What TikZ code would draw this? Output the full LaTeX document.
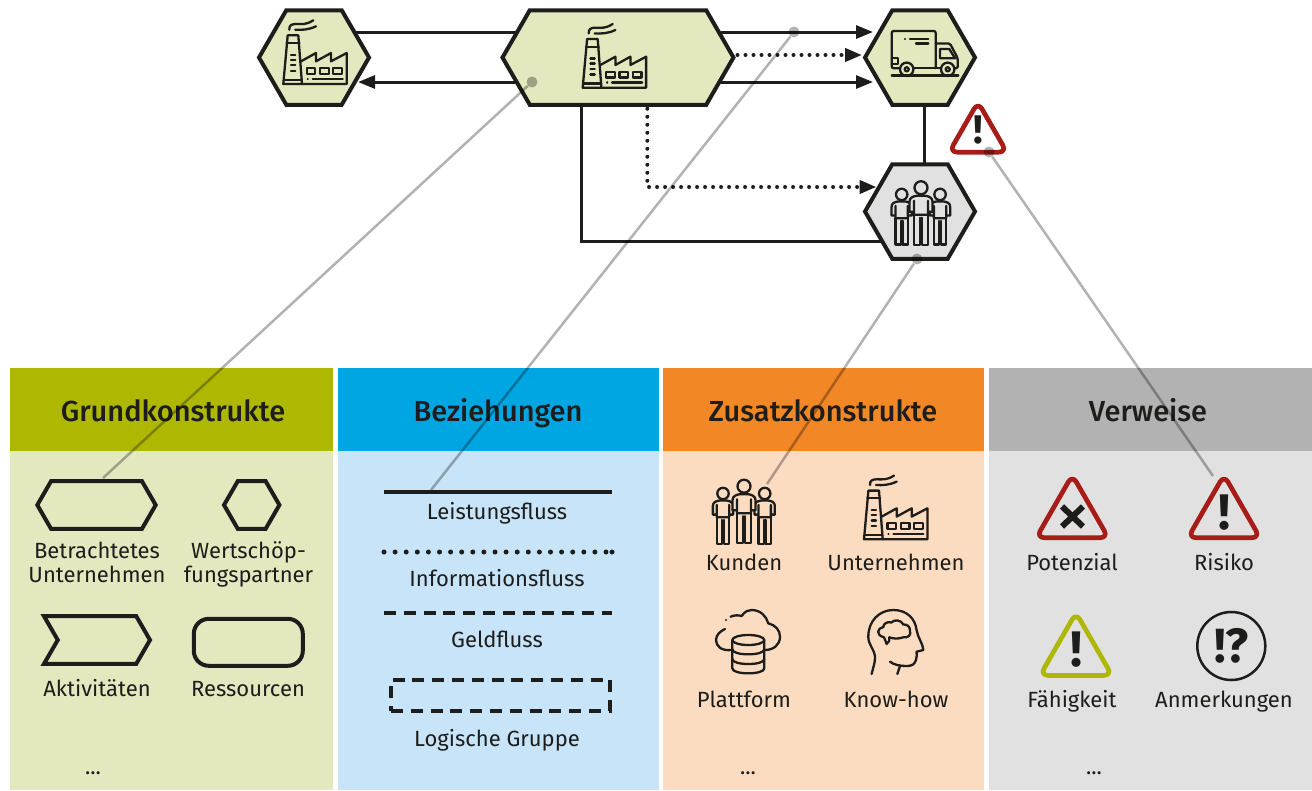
\documentclass[tikz,border=0pt]{standalone}
\usepackage{fontspec}
\setmainfont{Fira Sans}
\newfontfamily\titlefont{Fira Sans Medium}
\usetikzlibrary{shapes.symbols,arrows.meta,calc}
\definecolor{inkblack}{HTML}{1D1D1B}
\definecolor{grundhead}{HTML}{AFB800}
\definecolor{grundbody}{HTML}{E4E8BF}
\definecolor{bezhead}{HTML}{00A6E2}
\definecolor{bezbody}{HTML}{C8E4F9}
\definecolor{zushead}{HTML}{F18825}
\definecolor{zusbody}{HTML}{FCDCC0}
\definecolor{verhead}{HTML}{B2B2B2}
\definecolor{verbody}{HTML}{E1E1E1}
\definecolor{riskred}{HTML}{A71C17}
\tikzset{
  panelhead/.style={rectangle,minimum width=#1,minimum height=83pt,inner sep=0pt,outer sep=0pt},
  paneltitle/.style={anchor=base,inner sep=0pt,text=inkblack,font=\fontsize{29}{32}\titlefont},
  panelbody/.style={rectangle,minimum width=#1,minimum height=339pt,inner sep=0pt,outer sep=0pt},
  hexnode/.style={signal,signal to=east and west,signal pointer angle=120,draw=inkblack,line width=4pt,inner sep=0pt,outer sep=0pt,minimum height=94.5pt,minimum width=#1},
  legendhex/.style={signal,signal to=east and west,signal pointer angle=120,draw=inkblack,line width=4pt,inner sep=0pt,outer sep=0pt,minimum height=47.7pt,minimum width=#1},
  legendarrow/.style={signal,signal from=west,signal to=east,signal pointer angle=120,draw=inkblack,line width=4pt,inner sep=0pt,outer sep=0pt,minimum height=47.7pt,minimum width=106pt},
  legendres/.style={rectangle,rounded corners=15pt,draw=inkblack,line width=4pt,inner sep=0pt,outer sep=0pt,minimum height=47pt,minimum width=109pt},
  legendgroup/.style={rectangle,draw=inkblack,line width=4pt,dash pattern=on 12pt off 7.8pt,inner sep=0pt,outer sep=0pt,minimum height=31pt,minimum width=219pt},
  lbl/.style={anchor=base,text=inkblack,inner sep=0pt,font=\fontsize{22}{24}\selectfont},
  flow/.style={inkblack,line width=3pt,-{Triangle[length=17pt,width=13pt]}},
  flowplain/.style={inkblack,line width=3pt},
  infoflow/.style={inkblack,line width=4pt,line cap=round,dash pattern=on 0pt off 8pt},
  infotip/.style={infoflow,-{Triangle[length=17pt,width=13pt]}},
  legenddots/.style={inkblack,line width=5pt,line cap=round,dash pattern=on 0pt off 11.1pt},
  legendline/.style={inkblack,line width=4pt},
  leader/.style={verhead,line width=2.5pt,blend mode=multiply},
  leaderdot/.style={circle,fill=verhead,inner sep=0pt,minimum size=11pt,blend mode=multiply},
  iconline/.style={inkblack,line width=2.3pt,line join=round,line cap=round},
  factory/.pic={
    \draw[iconline] (-28.3,-17.7) -- (-17.7,-17.7) -- (-14,31) -- (-32.7,31) -- cycle;
    \draw[iconline] (-29.5,-10) -- (-16.5,-10) (-32,26.7) -- (-14.3,26.7);
    \draw[iconline] (-25,1.7) -- (-20.7,1.7) (-25,6.7) -- (-20.7,6.7) (-25,12.3) -- (-20.7,12.3) (-25,17.7) -- (-20.7,17.7);
    \draw[iconline] (-15,8.3) -- (0,0) -- (0,8.3) -- (15,0) -- (15,8.3) -- (30.7,0) -- (30.7,31) -- (-14,31);
    \draw[iconline] (-9.3,15) rectangle (-0.7,20.7) (4,15) rectangle (12.7,20.7) (17.3,15) rectangle (26,20.7);
    \draw[iconline] (-8.3,25.7) -- (-8.2,25.7) (-3.3,25.7) -- (26.7,25.7);
    \draw[iconline] (-26.7,-23.3) .. controls (-27,-28) and (-24,-29) .. (-20,-29) .. controls (-14,-29) and (-10,-28) .. (-2.7,-32.7);
    \draw[iconline] (-20.7,-23.3) .. controls (-14,-23) and (-8,-23) .. (0,-26.7);
  },
  person/.pic={
    \draw[iconline] (0,0) circle (6.5);
    \draw[iconline,fill=#1] (-7,27) -- (-7,57) -- (-1,57) -- (-1,30) (1,30) -- (1,57) -- (7,57) -- (7,27);
    \draw[iconline,fill=#1] (-7,27) -- (-7,13) -- (-7,24) -- (-11.5,24) -- (-11.5,14) .. controls (-11.5,10) and (-8,8.5) .. (-4,8) -- (4,8) .. controls (8,8.5) and (11.5,10) .. (11.5,14) -- (11.5,24) -- (7,24) -- (7,13) -- (7,27) -- cycle;
  },
  people/.pic={
    \path (-21,-18) pic[scale=.88] {person=#1};
    \path (20.7,-18) pic[scale=.88] {person=#1};
    \path (0,-25.3) pic {person=#1};
  },
  truckicon/.pic={
    \draw[iconline,rounded corners=2pt] (15.7,10.8) -- (15.7,-26.5) -- (-28.3,-26.5) -- (-28.3,10.8) -- (-20,10.8);
    \draw[iconline] (-28.3,0.8) -- (-21.7,0.8) -- (-21.7,6.5) -- (-28.3,6.5);
    \draw[iconline] (-15,-18.8) -- (-14.9,-18.8) (-10,-18.8) -- (8.3,-18.8) (-4,-14) -- (8.3,-14);
    \draw[iconline,rounded corners=1.5pt] (15.7,-14) -- (30,-14) -- (37.7,0.8) -- (37.7,10.8) -- (34.5,10.8);
    \draw[iconline] (20,-8.5) -- (29.3,-8.5) -- (35,0.8) -- (20,0.8) -- cycle;
    \draw[iconline] (-13.3,11.8) circle (6.7) (-13.3,11.8) circle (2) (27.7,11.8) circle (6.7) (27.7,11.8) circle (2);
    \draw[iconline] (-6.7,10.8) -- (21,10.8) (-28.3,18) -- (38.3,18);
  },
  cloudicon/.pic={
    \draw[iconline] (-16.7,10) .. controls (-26,11) and (-32.3,7) .. (-32.3,0) .. controls (-32.3,-5) and (-28,-9) .. (-23.3,-11);
    \draw[iconline] (-22.3,-20) -- (-22.2,-20);
    \draw[iconline] (-17.7,-23.3) .. controls (-14,-25) and (-10,-25) .. (-6.7,-24) .. controls (-3,-29) and (0,-30) .. (3.3,-30) .. controls (12,-30) and (18,-24) .. (20,-16.7) .. controls (27,-15) and (31.7,-10) .. (31.7,-3.3) .. controls (31.7,5) and (25,10) .. (16.7,10);
    \draw[iconline,fill=zusbody] (0,0) ellipse (16 and 5);
    \draw[iconline] (-16,0) -- (-16,28.3) .. controls (-16,35) and (16,35) .. (16,28.3) -- (16,0);
    \draw[iconline] (-16,9.3) .. controls (-16,16) and (16,16) .. (16,9.3) (-16,19) .. controls (-16,25.7) and (16,25.7) .. (16,19);
  },
  headicon/.pic={
    \draw[iconline] (-21.7,34) .. controls (-20,27) and (-18,22) .. (-18.3,16.7) .. controls (-19,9) and (-25,5) .. (-25,-3.3) .. controls (-25,-19) and (-14,-30) .. (0,-30) .. controls (14,-30) and (22,-21) .. (23.3,-10) .. controls (24,-3) and (30,4) .. (30,10) -- (23.3,11.7) .. controls (23,15) and (24,17) .. (22.7,20) .. controls (21,25) and (18,26) .. (13.3,26) .. controls (7,26) and (1,25) .. (-3.3,21.7);
    \draw[iconline] (6.7,26) -- (4,34);
    \draw[iconline] (-6.7,4) .. controls (-4,2) and (-3.5,0) .. (-4,-2.7) .. controls (1,-1) and (5,-1) .. (10,-2.7) .. controls (15,-2) and (18,-5) .. (16.7,-9) .. controls (17,-13) and (14,-16) .. (10,-15.5) .. controls (8,-20) and (1,-21) .. (-2,-17.5) .. controls (-6,-19) and (-10,-16) .. (-10,-13) .. controls (-16,-12) and (-18,-5) .. (-9.3,-2.7) .. controls (-8,0) and (-7.5,2) .. (-6.7,4) -- cycle;
  },
  warnsign/.pic={
    \draw[#1,line width=4.7pt,rounded corners=8pt,fill=none,line join=round] (0,-35) -- (-36,27.7) -- (36,27.7) -- cycle;
  },
  warnwhite/.pic={
    \draw[#1,line width=4.7pt,rounded corners=8pt,fill=white,line join=round] (0,-35) -- (-36,27.7) -- (36,27.7) -- cycle;
  },
  marknode/.style={anchor=base,text=inkblack,inner sep=0pt,font=\fontsize{#1}{#1}\selectfont\bfseries},
}
\begin{document}
\begin{tikzpicture}[x=1pt,y=-1pt]
  \useasboundingbox (0,0) rectangle (1312,790);

  \node [panelbody=323pt,fill=grundbody] (grundpanel) at (171.5,620.5) {};
  \node [panelbody=321pt,fill=bezbody] (bezpanel) at (498.5,620.5) {};
  \node [panelbody=321pt,fill=zusbody] (zuspanel) at (823.5,620.5) {};
  \node [panelbody=323pt,fill=verbody] (verpanel) at (1150.5,620.5) {};
  \node [panelhead=323pt,fill=grundhead] (grundhdr) at (171.5,409.5) {};
  \node [panelhead=321pt,fill=bezhead] (bezhdr) at (498.5,409.5) {};
  \node [panelhead=321pt,fill=zushead] (zushdr) at (823.5,409.5) {};
  \node [panelhead=323pt,fill=verhead] (verhdr) at (1150.5,409.5) {};
  \node [paneltitle] (grundtxt) at (173,421) {Grundkonstrukte};
  \node [paneltitle] (beztxt) at (498,421) {Beziehungen};
  \node [paneltitle] (zustxt) at (823,421) {Zusatzkonstrukte};
  \node [paneltitle] (vertxt) at (1148,421) {Verweise};

  \node [hexnode=110pt,fill=grundbody] (partner) at (314,57.5) {};
  \node [hexnode=231pt,fill=grundbody] (company) at (618,57.5) {};
  \node [hexnode=110pt,fill=grundbody] (carrier) at (920,57.5) {};
  \node [hexnode=110pt,fill=verbody] (customer) at (920,211.5) {};

  \draw [flowplain] ([xshift=-13pt,yshift=25.5pt]partner.east) -- ([xshift=13pt,yshift=25.5pt]company.west);
  \draw [flow] ([xshift=13pt,yshift=-24.5pt]company.west) -- ([xshift=-11pt,yshift=-24.5pt]partner.east);
  \draw [flow] ([xshift=-13pt,yshift=25.5pt]company.east) -- ([xshift=8pt,yshift=25.5pt]carrier.west);
  \draw [infotip] ([xshift=4pt,yshift=2.5pt]company.east) -- ([xshift=-3pt,yshift=2.5pt]carrier.west);
  \draw [flow] ([xshift=-13pt,yshift=-24.5pt]company.east) -- ([xshift=8pt,yshift=-24.5pt]carrier.west);
  \draw [flowplain] ([xshift=4.3pt]carrier.south) -- ([xshift=4.3pt]customer.north);
  \draw [flowplain] ([xshift=-36.7pt]company.south) |- ([xshift=16pt,yshift=-29.5pt]customer.west);
  \draw [infotip] ([xshift=29.3pt,yshift=-4pt]company.south) |- ([xshift=11.5pt,yshift=24.5pt]customer.west);

  \path (316,53) pic {factory};
  \path (615.4,56.7) pic {factory};
  \path (920,57.5) pic {truckicon};
  \path (921,211) pic[scale=.92] {people=verbody};
  \path (978,130) pic[scale=.8] {warnwhite=riskred};
  \node [marknode=40] (topmark) at (978,143.5) {!};

  \node [legendhex=118.4pt] (keycompany) at (96.5,505) {};
  \node [legendhex=55.4pt] (keypartner) at (251.7,505) {};
  \node [legendarrow] (keyactivity) at (97,640) {};
  \node [legendres] (keyresource) at (248.3,642.3) {};
  \node [lbl] (lblcompanyA) at (97,558) {Betrachtetes};
  \node [lbl] (lblcompanyB) at (97,582) {Unternehmen};
  \node [lbl] (lblpartnerA) at (248.5,558) {Wertschöp-};
  \node [lbl] (lblpartnerB) at (248.5,582) {fungspartner};
  \node [lbl] (lblactivity) at (97,696) {Aktivitäten};
  \node [lbl] (lblresource) at (248,696) {Ressourcen};
  \node [lbl] (lblmoreA) at (93,774) {...};

  \coordinate (solidA) at (384,491.5);
  \coordinate (solidB) at (612,491.5);
  \coordinate (dotA) at (384,552);
  \coordinate (dotB) at (612,552);
  \coordinate (dashA) at (384,613);
  \coordinate (dashB) at (612,613);
  \draw [legendline] (solidA) -- (solidB);
  \draw [legenddots] (dotA) -- (dotB) (dotB) -- +(0.01,0);
  \draw [legendline,dash pattern=on 12pt off 7.8pt] (dashA) -- (dashB);
  \node [legendgroup] (keygroup) at (500.5,695.5) {};
  \node [lbl] (lblsolid) at (497,519) {Leistungsfluss};
  \node [lbl] (lbldot) at (497,586) {Informationsfluss};
  \node [lbl] (lbldash) at (497,647) {Geldfluss};
  \node [lbl] (lblgroup) at (497,746) {Logische Gruppe};

  \path (744,511.5) pic {people=zusbody};
  \path (896.7,508.3) pic {factory};
  \path (748.3,640) pic {cloudicon};
  \path (893.3,640) pic {headicon};
  \node [lbl] (lblcustomer) at (744,570) {Kunden};
  \node [lbl] (lblfirm) at (896,570) {Unternehmen};
  \node [lbl] (lblplatform) at (744,707) {Plattform};
  \node [lbl] (lblknow) at (896,707) {Know-how};
  \node [lbl] (lblmoreB) at (748,774) {...};

  \path (1072.3,510) pic {warnsign=riskred};
  \path (1224,510) pic {warnsign=riskred};
  \path (1076,647.7) pic {warnsign=grundhead};
  \node [marknode=50] (riskmark) at (1224,529) {!};
  \node [marknode=50] (abilitymark) at (1076,666.7) {!};
  \node [circle,draw=inkblack,line width=2.5pt,inner sep=0pt,minimum size=68pt] (notecircle) at (1231.3,646) {};
  \node [marknode=48] (notemark) at (1231.3,662) {!?};
  \draw [inkblack,line width=6pt] (1062,506.5) -- (1083,526.5) (1083,506.5) -- (1062,526.5);
  \node [lbl] (lblpotential) at (1072,570) {Potenzial};
  \node [lbl] (lblrisk) at (1224,570) {Risiko};
  \node [lbl] (lblability) at (1072,707) {Fähigkeit};
  \node [lbl] (lblnote) at (1224,707) {Anmerkungen};
  \node [lbl] (lblmoreC) at (1094,774) {...};

  \node [leaderdot] (dotcompany) at (532,82) {};
  \node [leaderdot] (dotflow) at (794,32) {};
  \node [leaderdot] (dotcustomer) at (917,259) {};
  \node [leaderdot] (dotrisk) at (989,152) {};
  \coordinate (endcompany) at (103,478);
  \coordinate (endflow) at (431,490);
  \coordinate (endcustomer) at (767,484);
  \coordinate (endrisk) at (1213,476);
  \draw [leader] (dotcompany) -- (endcompany);
  \draw [leader] (dotflow) -- (endflow);
  \draw [leader] (dotcustomer) -- (endcustomer);
  \draw [leader] (dotrisk) -- (endrisk);
\end{tikzpicture}
\end{document}
